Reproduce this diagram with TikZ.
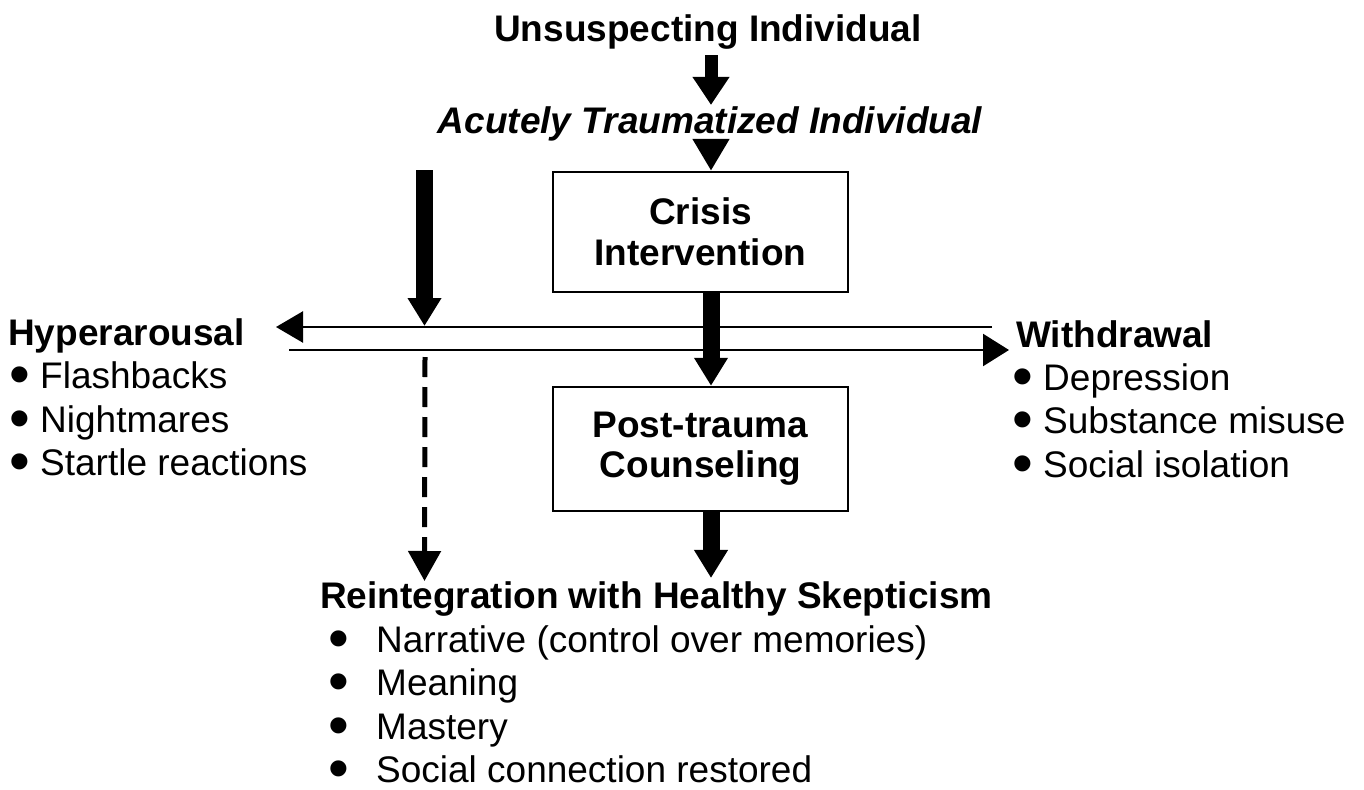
\documentclass[tikz,border=0pt]{standalone}
\usepackage{fontspec}
\setmainfont{Liberation Sans}
\usetikzlibrary{arrows.meta}
\newcommand{\mybul}{\smash{\raisebox{-6pt}{\scalebox{1.6}{•}}}}
\begin{document}
\begin{tikzpicture}[x=1pt,y=-1pt,
  every node/.style={inner sep=0pt, font=\fontsize{37}{43}\selectfont},
  boldtxt/.style={font=\fontsize{37}{43}\selectfont\bfseries},
  itbold/.style={font=\fontsize{37}{43}\selectfont\bfseries\itshape},
  stagebox/.style={draw, line width=2.4pt, minimum width=295pt, align=center},
  item/.style={anchor=base west},
  hline/.style={line width=2.4pt},
  bigarrow/.style={line width=17pt, -{Triangle[width=32pt,length=28pt]}},
  dasharrow/.style={line width=5pt, dash pattern=on 20pt off 10pt, -{Triangle[width=32pt,length=30pt]}}
]
\useasboundingbox (0,0) rectangle (1364,789);

% column coordinate for the central arrows
\coordinate (cx) at (711,0);
\coordinate (lx) at (424.5,0);

% top texts
\node[boldtxt, anchor=base] (top) at (708,42) {Unsuspecting Individual};
\node[itbold, anchor=base] (acute) at (710,133) {Acutely Traumatized Individual};

% boxes
\node[stagebox, minimum height=120pt, font=\fontsize{37}{41}\selectfont\bfseries] (crisis) at (700.5,232) {Crisis\\Intervention};
\node[stagebox, minimum height=124pt, font=\fontsize{37}{40}\selectfont\bfseries] (post) at (700.5,449) {Post-trauma\\Counseling};

% side headings
\node[boldtxt, anchor=base west] (hyper) at (8,345) {Hyperarousal};
\node[item] (h1) at (9,388) {\makebox[31pt][l]{\mybul}Flashbacks};
\node[item] (h2) at (9,432) {\makebox[31pt][l]{\mybul}Nightmares};
\node[item] (h3) at (9,475) {\makebox[31pt][l]{\mybul}Startle reactions};

\node[boldtxt, anchor=base west] (withd) at (1016,347) {Withdrawal};
\node[item] (w1) at (1012,390) {\makebox[31pt][l]{\mybul}Depression};
\node[item] (w2) at (1012,433) {\makebox[31pt][l]{\mybul}Substance misuse};
\node[item] (w3) at (1012,477) {\makebox[31pt][l]{\mybul}Social isolation};

\node[boldtxt, anchor=base west] (reint) at (320,608) {Reintegration with Healthy Skepticism};
\node[item] (r1) at (328,652) {\makebox[48pt][l]{\mybul}Narrative (control over memories)};
\node[item] (r2) at (328,695) {\makebox[48pt][l]{\mybul}Meaning};
\node[item] (r3) at (328,739) {\makebox[48pt][l]{\mybul}Mastery};
\node[item] (r4) at (328,782) {\makebox[48pt][l]{\mybul}Social connection restored};

% horizontal double line
\coordinate (tR) at (992,327);
\coordinate (tL) at (276,327);
\coordinate (bL) at (289,350);
\coordinate (bR) at (1009,350);
\draw[hline, -{Triangle[width=31pt,length=27pt]}] (tR) -- (tL);
\draw[hline, -{Triangle[width=32pt,length=26pt]}] (bL) -- (bR);

% left vertical arrows
\coordinate (lTop) at (424.5,170);
\coordinate (lHit) at (424.5,326);
\coordinate (dTop) at (425,357);
\draw[bigarrow] (lTop) -- (lHit);
\draw[dasharrow] (dTop) -- (reint.north -| lx) ;

% central arrows
\draw[line width=13pt, -{Triangle[width=35pt,length=28pt]}, shorten <=5pt, shorten >=1pt] (top.south -| cx) -- (acute.north -| cx);
\draw[line width=13pt, -{Triangle[width=35pt,length=32pt]}] (acute.south -| cx) -- (crisis.north -| cx);
\draw[bigarrow] (crisis.south -| cx) -- (post.north -| cx);
\draw[bigarrow, shorten >=3pt] (post.south -| cx) -- (reint.north -| cx);
\end{tikzpicture}
\end{document}
